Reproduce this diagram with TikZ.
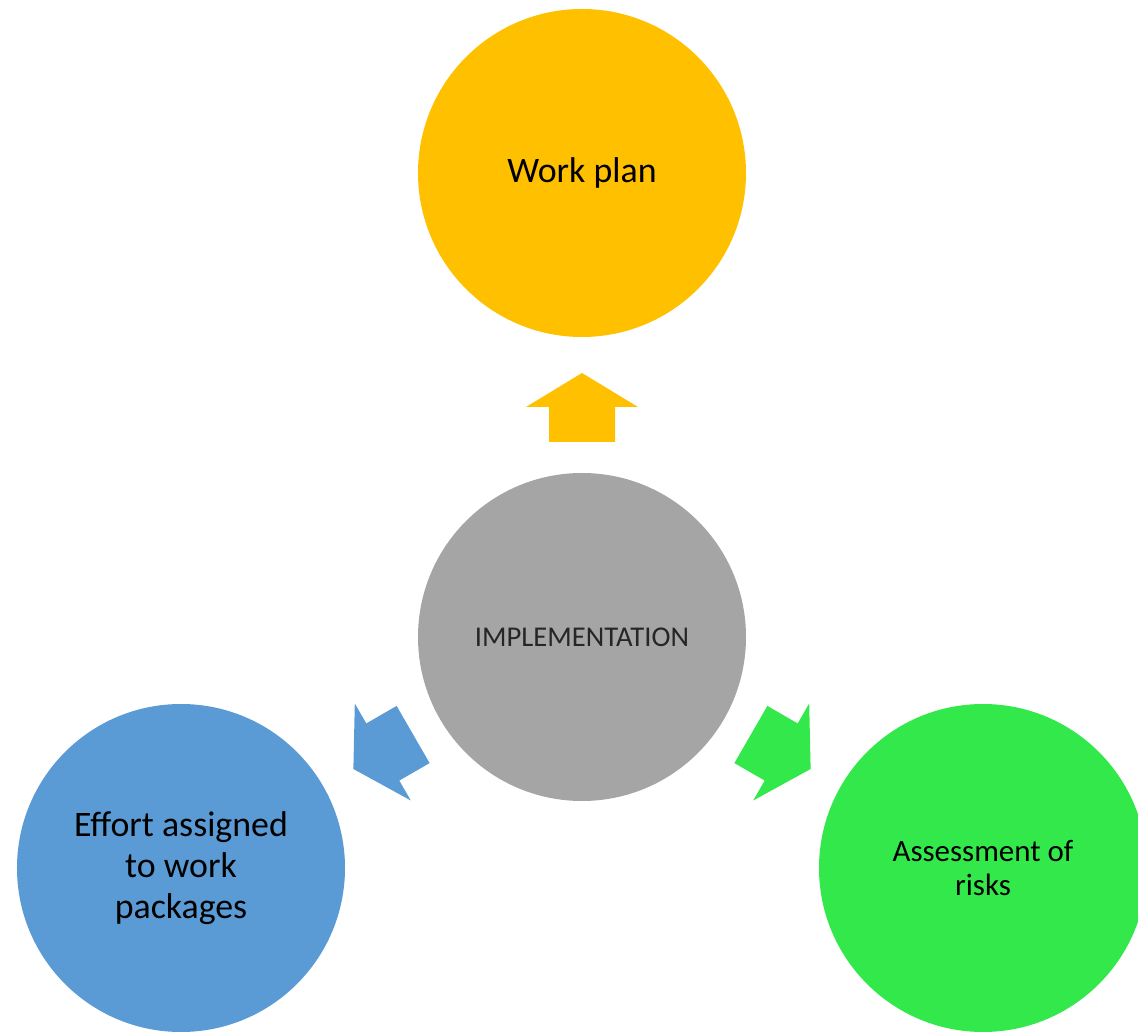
\documentclass[tikz,border=0pt]{standalone}
\usepackage{fontspec}
\setmainfont{Carlito}
\definecolor{planyellow}{HTML}{FFC000}
\definecolor{implgrey}{HTML}{A5A5A5}
\definecolor{effortblue}{HTML}{5B9BD5}
\definecolor{riskgreen}{RGB}{50,232,74}
\tikzset{
  bubble/.style={circle, minimum size=6.56cm, inner sep=0pt, align=center,
    font=\fontsize{20.4}{23.4}\selectfont},
}
\begin{document}
\begin{tikzpicture}
	% Fix the page size
	\useasboundingbox (-11.64,-7.88) rectangle (11.12,12.74);
	\clip (-11.64,-7.88) rectangle (11.12,12.74);
	
	% Draw the four circles
	\node[bubble, fill=implgrey, text=black!85, font=\fontsize{16.3}{19}\selectfont] (impl) at (0,0) {IMPLEMENTATION};
	\node[bubble, fill=planyellow] (plan) at (0,9.28) {Work plan};
	\node[bubble, fill=effortblue] (effort) at (-8.02,-4.62) {Effort assigned\\to work\\packages};
	\node[bubble, fill=riskgreen, font=\fontsize{17.6}{19.8}\selectfont] (risk) at (8.02,-4.62) {Assessment of\\risks};
	
	% Block arrows pointing out from the centre
	\foreach \ang/\col in {0/planyellow, 120/effortblue, -120/riskgreen}
	\fill[\col, shift={(impl.center)}, rotate=\ang]
	(-0.66,3.9) -- (-0.66,4.6) -- (-1.12,4.6) -- (0,5.28) -- (1.12,4.6) -- (0.66,4.6) -- (0.66,3.9) -- cycle;
	
\end{tikzpicture}
\end{document}
